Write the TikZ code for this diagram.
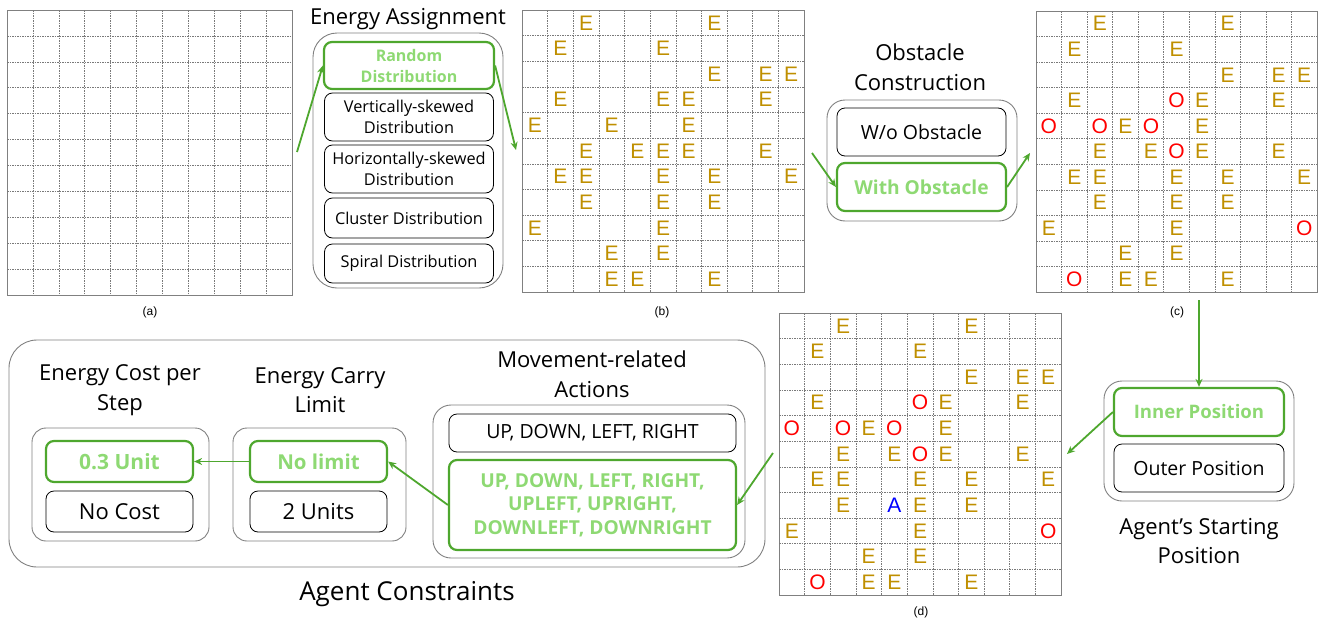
\documentclass[tikz,border=0pt]{standalone}
\usepackage{fontspec}
\setmainfont{Open Sans}
\newfontfamily\arialf{Liberation Sans}
\usetikzlibrary{arrows.meta,calc}
\definecolor{gline}{HTML}{4EA72E}
\definecolor{gtext}{HTML}{8ED973}
\definecolor{egold}{HTML}{BF8F00}
\definecolor{bgray}{HTML}{808080}
\definecolor{gridc}{HTML}{7A7A7A}
\newcommand\mkgrid[4]{%
  \node[gridframe, minimum width=#4, minimum height=#4] (#1) at ({#2+#4/2},{#3+#4/2}) {};
  \foreach \i in {1,...,10} {
    \draw[gridline] ({#2+\i*#4/11},#3) -- ({#2+\i*#4/11},{#3+#4});
    \draw[gridline] (#2,{#3+\i*#4/11}) -- ({#2+#4},{#3+\i*#4/11});
  }
}
\begin{document}
\begin{tikzpicture}[x=1pt,y=-1pt,
  gridframe/.style={draw=bgray, line width=0.9pt, inner sep=0pt},
  gridline/.style={draw=gridc, line width=0.5pt, dash pattern=on 1.5pt off 1pt},
  eletter/.style={text=egold, font=\arialf\fontsize{21}{21}\selectfont, inner sep=0pt},
  oletter/.style={text=red, font=\arialf\fontsize{21}{21}\selectfont, inner sep=0pt},
  aletter/.style={text=blue, font=\arialf\fontsize{21}{21}\selectfont, inner sep=0pt},
  caption/.style={font=\arialf\fontsize{12}{12}\selectfont, inner sep=0pt},
  groupbox/.style={draw=bgray, line width=0.9pt, rounded corners=18pt},
  optbox/.style={draw=black, line width=0.8pt, rounded corners=8pt, align=center, inner sep=0pt},
  selbox/.style={draw=gline, line width=2.2pt, rounded corners=8pt, align=center, inner sep=0pt, text=gtext},
  title/.style={align=center, font=\fontsize{22}{29.5}\selectfont, inner sep=0pt},
  garrow/.style={draw=gline, line width=1.8pt, -{Stealth[length=8pt,width=7pt]}},
  small/.style={font=\fontsize{16.3}{21}\selectfont},
  smallb/.style={font=\bfseries\fontsize{16}{21}\selectfont},
  mid/.style={font=\fontsize{19.5}{24}\selectfont},
  midb/.style={font=\bfseries\fontsize{19.2}{23.5}\selectfont},
  big/.style={font=\fontsize{22}{24}\selectfont},
  bigb/.style={font=\bfseries\fontsize{21}{24}\selectfont}]
\useasboundingbox (0,0) rectangle (1320,624);

% ---------- grids ----------
\mkgrid{ga}{7}{10}{285}
\mkgrid{gb}{522}{10}{282}
\mkgrid{gc}{1036}{11}{281}
\mkgrid{gd}{779}{313}{282}

\node[caption] (capa) at (150,312) {(a)};
\node[caption] (capb) at (662,312) {(b)};
\node[caption] (capc) at (1177,312) {(c)};
\node[caption] (capd) at (921,612) {(d)};

\foreach \r/\c in {0/2,0/7,1/1,1/5,2/7,2/9,2/10,3/1,3/5,3/6,3/9,4/0,4/3,4/6,5/2,5/4,5/5,5/6,5/9,6/1,6/2,6/5,6/7,6/10,7/2,7/5,7/7,8/0,8/5,9/3,9/5,10/3,10/4,10/7}
  \node[eletter] (b-\r-\c) at ({522+(\c+0.5)*282/11},{10+(\r+0.5)*282/11}) {E};

\foreach \r/\c in {0/2,0/7,1/1,1/5,2/7,2/9,2/10,3/1,3/6,3/9,4/3,4/6,5/2,5/4,5/6,5/9,6/1,6/2,6/5,6/7,6/10,7/2,7/5,7/7,8/0,8/5,9/3,9/5,10/3,10/4,10/7}{
  \node[eletter] (c-\r-\c) at ({1036+(\c+0.5)*281/11},{11+(\r+0.5)*281/11}) {E};
  \node[eletter] (d-\r-\c) at ({779+(\c+0.5)*282/11},{313+(\r+0.5)*282/11}) {E};
}
\foreach \r/\c in {3/5,4/0,4/2,4/4,5/5,8/10,10/1}{
  \node[oletter] (co-\r-\c) at ({1036+(\c+0.5)*281/11},{11+(\r+0.5)*281/11}) {O};
  \node[oletter] (do-\r-\c) at ({779+(\c+0.5)*282/11},{313+(\r+0.5)*282/11}) {O};
}
\node[aletter] (agent) at ({779+4.5*282/11},{313+7.5*282/11}) {A};

% ---------- Energy Assignment ----------
\node[title] (eatitle) at (408,19) {Energy Assignment};
\node[groupbox, rounded corners=24pt, minimum width=190, minimum height=255] (eabox) at (408,160.5) {};
\node[selbox, smallb, minimum width=170, minimum height=47] (rand) at (409,65.5) {Random\\Distribution};
\node[optbox, small, minimum width=169, minimum height=48] (vert) at (409,117) {Vertically-skewed\\Distribution};
\node[optbox, small, minimum width=169, minimum height=48] (horiz) at (409,169) {Horizontally-skewed\\Distribution};
\node[optbox, small, minimum width=169, minimum height=40] (clus) at (409,218) {Cluster Distribution};
\node[optbox, small, minimum width=169, minimum height=39] (spir) at (409,263.5) {Spiral Distribution};

% ---------- Obstacle Construction ----------
\node[title] (octitle) at (920,67) {Obstacle\\Construction};
\node[groupbox, minimum width=190, minimum height=121] (obox) at (922,160.5) {};
\node[optbox, mid, minimum width=169, minimum height=48] (wo) at (921.5,132) {W/o Obstacle};
\node[selbox, midb, minimum width=169, minimum height=48] (with) at (921.5,187) {With Obstacle};

% ---------- Agent's Starting Position ----------
\node[groupbox, minimum width=190, minimum height=120] (asbox) at (1199,441) {};
\node[selbox, midb, font=\bfseries\fontsize{18.6}{23}\selectfont, minimum width=170, minimum height=48] (inner) at (1199,412) {Inner Position};
\node[optbox, mid, minimum width=170, minimum height=48] (outerpos) at (1199,468) {Outer Position};
\node[title] (astitle) at (1199,541) {Agent’s Starting\\Position};

% ---------- Agent Constraints ----------
\node[groupbox, rounded corners=28pt, minimum width=756, minimum height=227] (acbox) at (387,453.5) {};
\node[title, font=\fontsize{26}{30}\selectfont] (actitle) at (407,594) {Agent Constraints};

\node[title] (ectitle) at (120,390) {Energy Cost per\\Step};
\node[groupbox, rounded corners=14pt, minimum width=177, minimum height=113] (ecbox) at (120.5,484.5) {};
\node[selbox, bigb, minimum width=147, minimum height=41] (u03) at (119.5,461.5) {0.3 Unit};
\node[optbox, big, minimum width=147, minimum height=41] (nocost) at (119.5,511.5) {No Cost};

\node[title] (eltitle) at (320,390) {Energy Carry\\Limit};
\node[groupbox, rounded corners=14pt, minimum width=173, minimum height=113] (elbox) at (319.5,484.5) {};
\node[selbox, bigb, font=\bfseries\fontsize{20.5}{24}\selectfont, minimum width=137, minimum height=41] (nolimit) at (318.5,461.5) {No limit};
\node[optbox, big, minimum width=137, minimum height=41] (units2) at (318.5,511.5) {2 Units};

\node[title] (matitle) at (592,374) {Movement-related\\Actions};
\node[groupbox, minimum width=312, minimum height=153] (mabox) at (589,481.5) {};
\node[optbox, mid, minimum width=287, minimum height=38] (udlr) at (592.5,433) {UP, DOWN, LEFT, RIGHT};
\node[selbox, midb, minimum width=287, minimum height=90] (allmv) at (592.5,505) {UP, DOWN, LEFT, RIGHT,\\UPLEFT, UPRIGHT,\\DOWNLEFT, DOWNRIGHT};

% ---------- connectors ----------
\coordinate (p1) at (297,152);
\coordinate (p2) at (516,150);
\coordinate (p3) at (812,153);
\coordinate (p4) at (1030,153);
\coordinate (p5) at (1199,300);
\coordinate (p6) at (1067,454);
\coordinate (p7) at (773,453);

\draw[garrow] (p1) -- (rand.west);
\draw[garrow] (rand.east) -- (p2);
\draw[garrow] (p3) -- (with.west);
\draw[garrow] (with.east) -- (p4);
\draw[garrow] (p5) -- (inner.north);
\draw[garrow] (inner.west) -- (p6);
\draw[garrow] (p7) -- (allmv.east);
\draw[garrow] (allmv.west) -- (nolimit.east);
\draw[garrow] (nolimit.west) -- (u03.east);
\end{tikzpicture}
\end{document}
